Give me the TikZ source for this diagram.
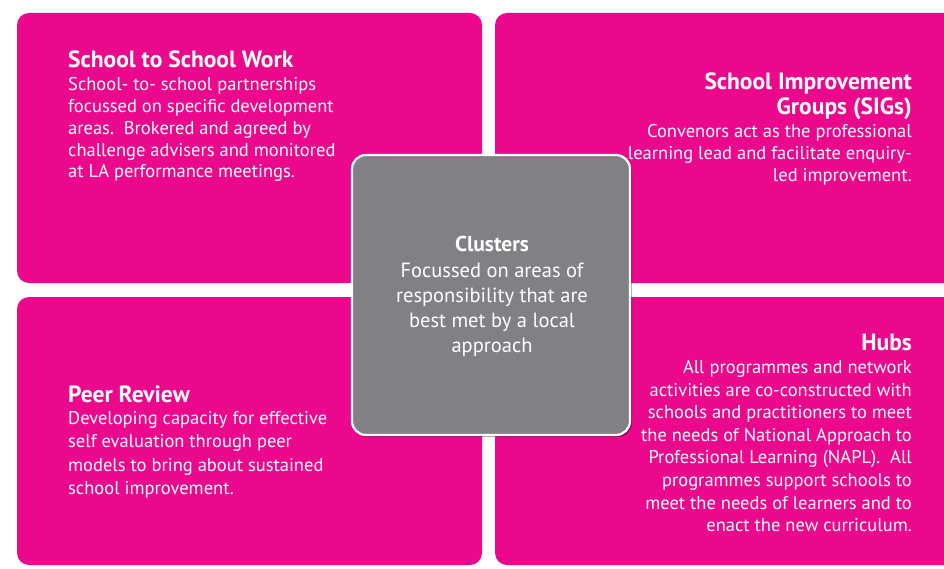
\documentclass[tikz,border=0pt]{standalone}
\usepackage{fontspec}
\setmainfont{PT Sans}
\usetikzlibrary{shadows}
\definecolor{pinkbox}{RGB}{236,8,140}
\definecolor{grayc}{RGB}{128,129,133}
\newcommand{\ttl}[1]{{\bfseries\fontsize{23.5}{24}\selectfont #1}}
\tikzset{
  quad/.style={fill=pinkbox, rounded corners=12pt, draw=none, inner sep=0pt},
  centre/.style={fill=grayc, draw=white, line width=2.2pt, rounded corners=14pt, inner sep=0pt,
    drop shadow={shadow xshift=2pt, shadow yshift=-2pt, fill=black, opacity=0.35}},
  bodyL/.style={text=white, align=left, inner sep=0pt, font=\fontsize{18.5}{21.9}\selectfont},
  bodyR/.style={text=white, align=right, inner sep=0pt, font=\fontsize{18.5}{22.6}\selectfont},
  bodyC/.style={text=white, align=center, inner sep=0pt, font=\fontsize{20.5}{25}\selectfont},
}
\begin{document}
\begin{tikzpicture}[x=1pt,y=-1pt]
\useasboundingbox (0,0) rectangle (944,569);
\fill[white] (0,0) rectangle (944,569);
% quadrants
\node[quad, minimum width=465pt, minimum height=270pt] (tl) at (249.5,148) {};
\node[quad, minimum width=465pt, minimum height=270pt] (tr) at (727.5,148) {};
\node[quad, minimum width=465pt, minimum height=268pt] (bl) at (249.5,431) {};
\node[quad, minimum width=465pt, minimum height=268pt] (br) at (727.5,431) {};
% centre
\node[centre, minimum width=278pt, minimum height=280pt] (c) at (491,295) {};
% texts
\node[bodyL, anchor=north west] (tltext) at (68,51) {\ttl{School to School Work}\\[0.5pt]
School- to- school partnerships\\
focussed on specific development\\
areas.\ \ Brokered and agreed by\\
challenge advisers and monitored\\
at LA performance meetings.};
\node[bodyR, anchor=north east] (trtext) at (912,73) {\ttl{School Improvement}\\[1.5pt]
\ttl{Groups (SIGs)}\\[1pt]
Convenors act as the professional\\[-0.6pt]
learning lead and facilitate enquiry-\\[-0.6pt]
led improvement.};
\node[bodyC, anchor=north] (ctext) at (492,235.5) {{\bfseries\fontsize{21.5}{25}\selectfont Clusters}\\[1pt]
Focussed on areas of\\
responsibility that are\\
best met by a local\\
approach};
\node[bodyL, anchor=north west] (bltext) at (68,386) {\ttl{Peer Review}\\[0pt]
Developing capacity for effective\\[1.2pt]
self evaluation through peer\\[1.2pt]
models to bring about sustained\\[1.2pt]
school improvement.};
\node[bodyR, anchor=north east] (brtext) at (912,334) {\ttl{Hubs}\\[0.2pt]
All programmes and network\\
activities are co-constructed with\\
schools and practitioners to meet\\
the needs of National Approach to\\
Professional Learning (NAPL).\ \ All\\
programmes support schools to\\
meet the needs of learners and to\\
enact the new curriculum.};
\end{tikzpicture}
\end{document}
